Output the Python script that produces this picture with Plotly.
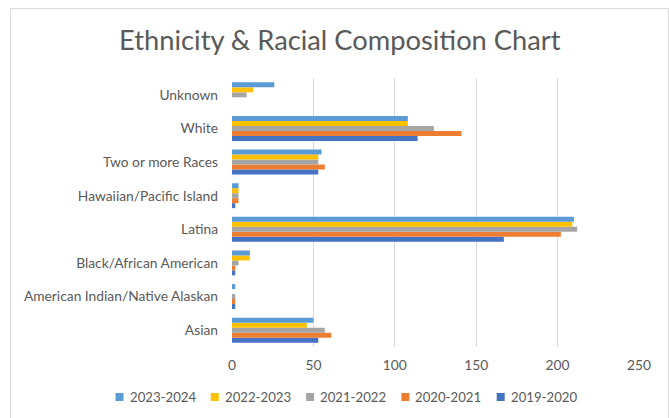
import plotly.graph_objects as go

categories = ["Asian", "American Indian/Native Alaskan", "Black/African American",
              "Latina", "Hawaiian/Pacific Island", "Two or more Races", "White", "Unknown"]

y2019_2020 = [53, 2, 2, 167, 2, 53, 114, 0]
y2020_2021 = [61, 2, 2, 202, 4, 57, 141, 0]
y2021_2022 = [57, 2, 4, 212, 4, 53, 124, 9]
y2022_2023 = [46, 0, 11, 209, 4, 53, 108, 13]
y2023_2024 = [50, 2, 11, 210, 4, 55, 108, 26]

series = [
    ("2019-2020", y2019_2020, "#4472C4"),
    ("2020-2021", y2020_2021, "#ED7D31"),
    ("2021-2022", y2021_2022, "#A5A5A5"),
    ("2022-2023", y2022_2023, "#FFC000"),
    ("2023-2024", y2023_2024, "#5B9BD5"),
]

x_ticks = [0, 50, 100, 150, 200, 250]

fig = go.Figure()
for name, vals, color in series:
    fig.add_trace(go.Bar(
        y=categories, x=vals, name=name, orientation="h",
        marker=dict(color=color, line=dict(width=0)),
        showlegend=False,
    ))

W, H = 669, 418
L, R, T, B = 232, 30, 78, 71
pw, ph = W - L - R, H - T - B

def px_x(p):
    return (p - L) / pw

def px_y(p):
    return (H - B - p) / ph

FONT = "Lato, Open Sans, sans-serif"
GREY = "#595959"

shapes = [dict(type="rect", xref="paper", yref="paper",
               x0=px_x(10.5), x1=px_x(668.5), y0=px_y(430), y1=px_y(8.5),
               line=dict(color="#D9D9D9", width=1), layer="below")]
annotations = []

# Legend (Excel style: small squares, newest season first)
leg_start, leg_step, leg_y, sq = 119.5, 95.3, 397, 8
for i, (name, vals, color) in enumerate(reversed(series)):
    cx = leg_start + i * leg_step
    shapes.append(dict(type="rect", xref="paper", yref="paper",
                       x0=px_x(cx - sq / 2), x1=px_x(cx + sq / 2),
                       y0=px_y(leg_y + sq / 2), y1=px_y(leg_y - sq / 2),
                       fillcolor=color, line=dict(width=0)))
    annotations.append(dict(text=name, xref="paper", yref="paper",
                            x=px_x(cx + 8), y=px_y(leg_y), xanchor="left", yanchor="middle",
                            showarrow=False, font=dict(size=13.2, color=GREY, family=FONT)))

fig.update_layout(
    width=W, height=H,
    margin=dict(l=L, r=R, t=T, b=B, autoexpand=False),
    paper_bgcolor="white", plot_bgcolor="white",
    barmode="group", bargap=0.26, bargroupgap=0,
    font=dict(family=FONT, color=GREY, size=13.8),
    title=dict(text="Ethnicity & Racial Composition Chart",
               x=0.508, xanchor="center", y=1 - 40 / H, yanchor="middle",
               font=dict(size=27.3, color=GREY, family=FONT)),
    xaxis=dict(range=[0, 250], tickvals=x_ticks, showgrid=True, gridcolor="#D9D9D9",
               gridwidth=1, zeroline=False, showline=False, ticks="",
               tickfont=dict(size=13.8, color=GREY), ticklabelstandoff=8,
               fixedrange=True),
    yaxis=dict(showgrid=False, zeroline=False, showline=False, ticks="",
               tickfont=dict(size=13.8, color=GREY), ticklabelstandoff=13,
               categoryorder="array", categoryarray=categories),
    showlegend=False,
    shapes=shapes,
    annotations=annotations,
)

fig.write_html("out.html")
